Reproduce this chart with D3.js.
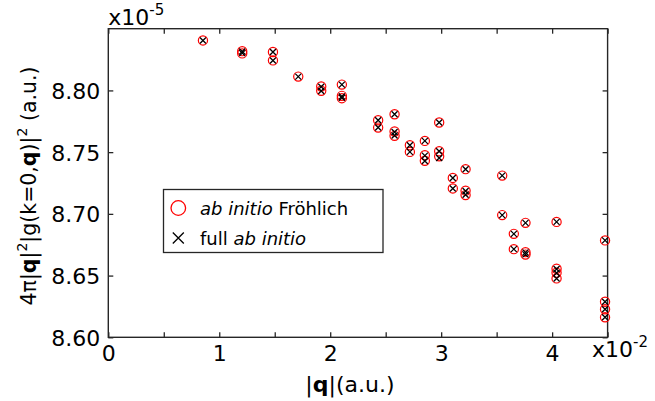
<!DOCTYPE html>
<html>
<head>
<meta charset="utf-8">
<script src="https://cdn.jsdelivr.net/npm/d3@7"></script>
<style>
  body { margin: 0; background: #fff; }
  svg { font-family: "DejaVu Sans", Verdana, sans-serif; }
</style>
</head>
<body>
<svg></svg>
<script>
/* data: |q| in 1e-2 a.u., value in 1e-5 a.u. */
const qFrohlich = [0.853, 1.207, 1.207, 1.484, 1.484, 1.712, 1.919, 1.919, 2.105, 2.105, 2.105,
  2.432, 2.432, 2.580, 2.580, 2.580, 2.718, 2.718, 2.853, 2.853, 2.853, 2.982, 2.982, 2.982,
  3.105, 3.105, 3.220, 3.220, 3.220, 3.550, 3.550, 3.655, 3.655, 3.760, 3.760, 3.760,
  4.040, 4.040, 4.040, 4.040, 4.477, 4.477, 4.477, 4.477];
const gFrohlich = [8.8405, 8.8318, 8.8300, 8.8311, 8.8243, 8.8112, 8.8032, 8.7997, 8.8047, 8.7956, 8.7937,
  8.7758, 8.7699, 8.7807, 8.7667, 8.7632, 8.7556, 8.7502, 8.7591, 8.7475, 8.7430, 8.7740, 8.7507, 8.7466,
  8.7291, 8.7206, 8.7362, 8.7188, 8.7152, 8.7310, 8.6990, 8.6838, 8.6714, 8.6927, 8.6690, 8.6670,
  8.6935, 8.6555, 8.6523, 8.6477, 8.6785, 8.6288, 8.6227, 8.6162];
const qFull = [0.853, 1.207, 1.207, 1.484, 1.484, 1.712, 1.919, 1.919, 2.105, 2.105, 2.105,
  2.432, 2.432, 2.580, 2.580, 2.580, 2.718, 2.718, 2.853, 2.853, 2.853, 2.982, 2.982, 2.982,
  3.105, 3.105, 3.220, 3.220, 3.220, 3.550, 3.550, 3.655, 3.655, 3.760, 3.760, 3.760,
  4.040, 4.040, 4.040, 4.040, 4.477, 4.477, 4.477, 4.477];
const gFull = [8.8405, 8.8315, 8.8302, 8.8311, 8.8243, 8.8112, 8.8030, 8.7995, 8.8047, 8.7952, 8.7940,
  8.7758, 8.7699, 8.7807, 8.7663, 8.7635, 8.7556, 8.7502, 8.7591, 8.7472, 8.7428, 8.7740, 8.7507, 8.7453,
  8.7291, 8.7206, 8.7362, 8.7185, 8.7155, 8.7310, 8.6990, 8.6838, 8.6714, 8.6927, 8.6688, 8.6672,
  8.6935, 8.6553, 8.6521, 8.6477, 8.6785, 8.6288, 8.6227, 8.6162];
const xTicks = [0, 0.5, 1, 1.5, 2, 2.5, 3, 3.5, 4, 4.5];
const xTickLabels = ['0', '', '1', '', '2', '', '3', '', '4', ''];
const yTicks = [8.60, 8.65, 8.70, 8.75, 8.80];

/* layout */
const width = 655, height = 401;
const plot = {L: 108.3, R: 607.6, T: 28.7, B: 337.3};
const axisColor = '#262626';
const tickLen = 5;

const svg = d3.select('svg').attr('width', width).attr('height', height);

const x = d3.scaleLinear().domain([0, 4.5]).range([plot.L, plot.R]);
const y = d3.scaleLinear().domain([8.60, 8.85]).range([plot.B, plot.T]);

/* axes, ticks inward on all four sides */
const bottomAxis = d3.axisBottom(x).tickValues(xTicks)
  .tickSize(-tickLen).tickFormat((d, i) => xTickLabels[i]);
const topAxis = d3.axisTop(x).tickValues(xTicks).tickSize(-tickLen).tickFormat('');
const leftAxis = d3.axisLeft(y).tickValues(yTicks).tickSize(-tickLen).tickFormat(d3.format('.2f'));
const rightAxis = d3.axisRight(y).tickValues(yTicks).tickSize(-tickLen).tickFormat('');

function styleAxis(g) {
  g.select('.domain').remove();
  g.selectAll('.tick line').attr('stroke', axisColor).attr('stroke-width', 1.3);
  g.selectAll('.tick text').attr('fill', '#000').style('font-size', '22px')
    .style('font-family', '"DejaVu Sans", Verdana, sans-serif');
}

svg.append('g').attr('transform', `translate(0,${plot.B})`).call(bottomAxis).call(styleAxis)
  .selectAll('.tick text').attr('y', 8).attr('dy', '0.71em');
svg.append('g').attr('transform', `translate(0,${plot.T})`).call(topAxis).call(styleAxis);
svg.append('g').attr('transform', `translate(${plot.L},0)`).call(leftAxis).call(styleAxis)
  .selectAll('.tick text').attr('x', -8).attr('dy', '0.36em');
svg.append('g').attr('transform', `translate(${plot.R},0)`).call(rightAxis).call(styleAxis);

svg.append('rect')
  .attr('x', plot.L).attr('y', plot.T)
  .attr('width', plot.R - plot.L).attr('height', plot.B - plot.T)
  .attr('fill', 'none').attr('stroke', axisColor).attr('stroke-width', 1.4);

/* exponent labels */
const expTop = svg.append('text').attr('x', plot.L).attr('y', 25).style('font-size', '22px');
expTop.append('tspan').text('x10');
expTop.append('tspan').attr('dy', -10).style('font-size', '15px').text('-5');

const expBottom = svg.append('text').attr('x', 592).attr('y', 357).style('font-size', '22px');
expBottom.append('tspan').text('x10');
expBottom.append('tspan').attr('dy', -10).style('font-size', '15px').text('-2');

/* axis titles */
const xTitle = svg.append('text').attr('x', (plot.L + plot.R) / 2 - 8).attr('y', 392)
  .attr('text-anchor', 'middle').style('font-size', '22px');
xTitle.append('tspan').text('|');
xTitle.append('tspan').style('font-weight', 'bold').text('q');
xTitle.append('tspan').text('|(a.u.)');

const yTitle = svg.append('text')
  .attr('transform', `translate(36,${(plot.T + plot.B) / 2 + 3}) rotate(-90)`)
  .attr('text-anchor', 'middle').style('font-size', '20.5px');
yTitle.append('tspan').text('4π|');
yTitle.append('tspan').style('font-weight', 'bold').text('q');
yTitle.append('tspan').text('|');
yTitle.append('tspan').attr('dy', -9).style('font-size', '14px').text('2');
yTitle.append('tspan').attr('dy', 9).text('|g(k=0,');
yTitle.append('tspan').style('font-weight', 'bold').text('q');
yTitle.append('tspan').text(')|');
yTitle.append('tspan').attr('dy', -9).style('font-size', '14px').text('2');
yTitle.append('tspan').attr('dy', 9).text(' (a.u.)');

/* markers */
const circles = qFrohlich.map((q, i) => ({q: q, v: gFrohlich[i]}));
const crosses = qFull.map((q, i) => ({q: q, v: gFull[i]}));

svg.append('g').selectAll('circle').data(circles).enter().append('circle')
  .attr('cx', d => x(d.q)).attr('cy', d => y(d.v)).attr('r', 4.6)
  .attr('fill', 'none').attr('stroke', '#ff0000').attr('stroke-width', 1.2);

const cs = 3;
svg.append('g').selectAll('path').data(crosses).enter().append('path')
  .attr('d', d => {
    const cx = x(d.q), cy = y(d.v);
    return `M${cx - cs},${cy - cs}L${cx + cs},${cy + cs}M${cx - cs},${cy + cs}L${cx + cs},${cy - cs}`;
  })
  .attr('stroke', '#000').attr('stroke-width', 1.3).attr('fill', 'none');

/* legend */
const legend = svg.append('g');
legend.append('rect').attr('x', 163.5).attr('y', 189.5).attr('width', 219.5).attr('height', 63)
  .attr('fill', '#fff').attr('stroke', axisColor).attr('stroke-width', 1.3);
legend.append('circle').attr('cx', 178.3).attr('cy', 208).attr('r', 7.3)
  .attr('fill', 'none').attr('stroke', '#ff0000').attr('stroke-width', 1.3);
const lx = 178.3, ly = 238, ls = 5.5;
legend.append('path')
  .attr('d', `M${lx - ls},${ly - ls}L${lx + ls},${ly + ls}M${lx - ls},${ly + ls}L${lx + ls},${ly - ls}`)
  .attr('stroke', '#000').attr('stroke-width', 1.3);
const t1 = legend.append('text').attr('x', 200).attr('y', 214.5).style('font-size', '18px');
t1.append('tspan').style('font-style', 'italic').text('ab initio');
t1.append('tspan').text(' Fröhlich');
const t2 = legend.append('text').attr('x', 200).attr('y', 244.5).style('font-size', '18px');
t2.append('tspan').text('full ');
t2.append('tspan').style('font-style', 'italic').text('ab initio');
</script>
</body>
</html>
